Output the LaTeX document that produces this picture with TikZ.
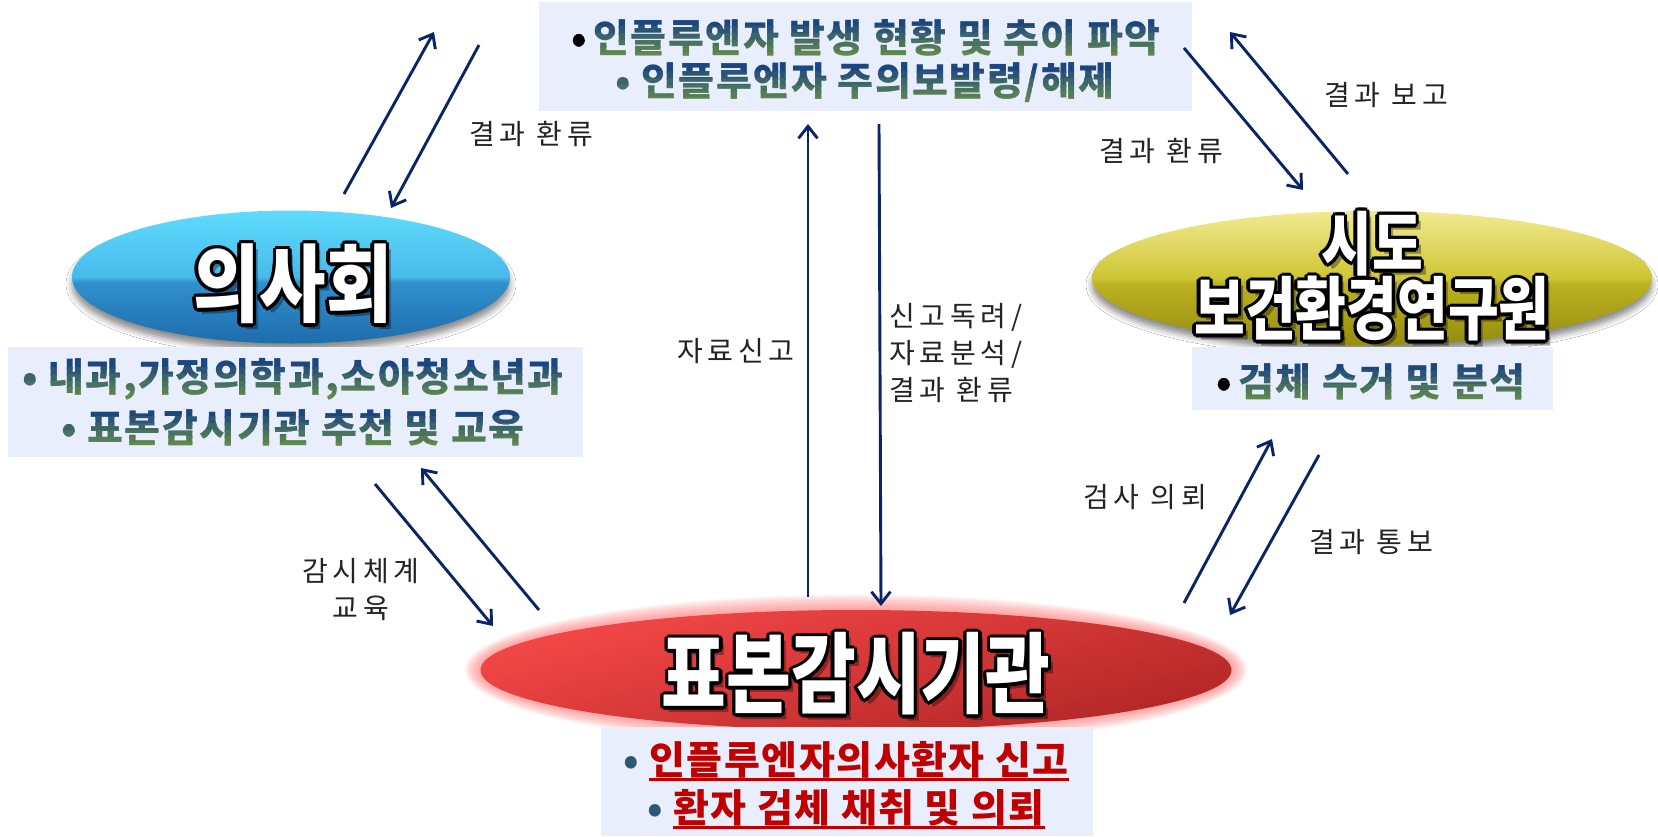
\documentclass[tikz,border=0pt]{standalone}
\usepackage{fontspec}
\newfontfamily\kr{Noto Sans CJK KR}
\newfontfamily\krl{Noto Sans CJK KR}[LetterSpace=17]
\newfontfamily\krb{Noto Sans CJK KR}[LetterSpace=4]
\usetikzlibrary{shapes.geometric,arrows.meta,calc,shadows.blur}

\definecolor{navy}{RGB}{10,36,104}
\definecolor{boxfill}{RGB}{232,238,252}
\definecolor{gtop}{RGB}{28,70,128}
\definecolor{gbot}{RGB}{115,155,65}
\definecolor{kred}{RGB}{192,0,0}
\definecolor{lbl}{RGB}{35,35,35}
\definecolor{bA}{RGB}{30,108,172}
\definecolor{bB}{RGB}{48,145,205}
\definecolor{bC}{RGB}{72,185,235}
\definecolor{bD}{RGB}{95,220,252}
\definecolor{yA}{RGB}{150,140,15}
\definecolor{yB}{RGB}{188,178,34}
\definecolor{yC}{RGB}{206,197,52}
\definecolor{yD}{RGB}{242,234,145}
\definecolor{rA}{RGB}{246,72,72}
\definecolor{rB}{RGB}{178,38,38}

\pgfdeclareverticalshading{bluegloss}{100bp}{color(0bp)=(bA); color(25bp)=(bA); color(48bp)=(bB); color(50bp)=(bC); color(75bp)=(bD); color(100bp)=(bD)}
\pgfdeclareverticalshading{yellowgloss}{100bp}{color(0bp)=(yA); color(25bp)=(yA); color(48bp)=(yB); color(50bp)=(yC); color(75bp)=(yD); color(100bp)=(yD)}

\tikzset{
  ttl/.style={inner sep=0pt},
  arr/.style={draw=navy, line width=2.9pt, -{Straight Barb[length=12pt,width=19pt]}},
  lab/.style={font=\krl\fontsize{28}{37}\selectfont, text=lbl, inner sep=0pt, align=center},
  kbox/.style={fill=boxfill, draw=none, inner sep=0pt},
  blt/.style={font=\krb\bfseries\fontsize{39}{39}\selectfont, inner sep=0pt}
}

% outlined title: #1 pos, #2 name, #3 font size, #4 x scale, #5 text
\newcommand{\OTitle}[5]{%
  \node[ttl, font=\kr\bfseries\fontsize{#3}{#3}\selectfont, text=black, opacity=0.35] (#2sh) at ($(#1)+(5,6)$) {\scalebox{#4}[1]{#5}};
  \foreach \ang in {0,30,...,330}{%
    \node[ttl, font=\kr\bfseries\fontsize{#3}{#3}\selectfont, text=black] (#2o\ang) at ($(#1)+(\ang:3.3)$) {\scalebox{#4}[1]{#5}};}
  \node[ttl, font=\kr\bfseries\fontsize{#3}{#3}\selectfont, text=white] (#2) at (#1) {\scalebox{#4}[1]{#5}};
}

% gradient text line: #1 pos, #2 name, #3 text
\newcommand{\GLine}[3]{%
  \foreach \k/\ya/\yb/\pc in {0/-60/-11/0,1/-11/-4/18,2/-4/3/36,3/3/9/52,4/9/15/66,5/15/60/78}{%
    \begin{scope}
      \clip ($(#1)+(-450,\ya-0.6)$) rectangle ($(#1)+(450,\yb)$);
      \node[blt, text=gbot!\pc!gtop] (#2\k) at (#1) {#3};
    \end{scope}}
  \coordinate (#2) at (#1);
}

\newcommand{\kul}[1]{\setbox0\hbox{#1}\leavevmode\rlap{\rule[-6pt]{\wd0}{2.8pt}}\box0}

\begin{document}
\begin{tikzpicture}[x=1pt,y=-1pt]
\useasboundingbox (0,0) rectangle (1658,836);
\fill[white] (0,0) rectangle (1658,836);

% ---------- red glow ----------
\foreach \i in {1,...,12}{
  \node[ellipse, fill=red!55!white, opacity=0.07, draw=none,
        minimum width={(751+2.6*\i)*1pt}, minimum height={(120+2.6*\i)*1pt}] (glow\i) at (856,670) {};}

% ---------- ellipses ----------
\node[ellipse, minimum width=438pt, minimum height=133pt, shade, shading=bluegloss,
      blur shadow={shadow xshift=0pt,shadow yshift=-7pt,shadow blur radius=6pt,shadow opacity=45}] (e1) at (291,277) {};
\node[ellipse, minimum width=560pt, minimum height=134pt, shade, shading=yellowgloss,
      blur shadow={shadow xshift=0pt,shadow yshift=-7pt,shadow blur radius=6pt,shadow opacity=45}] (e2) at (1372,278) {};
\node[ellipse, minimum width=751pt, minimum height=120pt, shade, top color=rA, bottom color=rB, shading angle=15] (e3) at (856,670) {};

% ---------- titles ----------
\OTitle{293,284}{t1}{85}{0.85}{의사회}
\OTitle{1372,244}{t2a}{69}{0.8}{시도}
\OTitle{1372,309}{t2b}{69}{0.8}{보건환경연구원}
\OTitle{856,674}{t3}{88}{0.8}{표본감시기관}

% ---------- boxes ----------
\node[kbox, minimum width=653pt, minimum height=109pt] (topbox) at (865.5,56.5) {};
\node[kbox, minimum width=575pt, minimum height=110pt] (leftbox) at (295.5,402) {};
\node[kbox, minimum width=361pt, minimum height=63pt] (rightbox) at (1372.5,378.5) {};
\node[kbox, minimum width=492pt, minimum height=109pt] (botbox) at (847,781.5) {};

% ---------- box texts ----------
\GLine{866,38}{tl1}{{\color{black}•}\,인플루엔자 발생 현황 및 추이 파악}
\GLine{865,83}{tl2}{• 인플루엔자 주의보발령/해제}
\GLine{293,379}{ll1}{• 내과,가정의학과,소아청소년과}
\GLine{293,428}{ll2}{• 표본감시기관 추천 및 교육}
\GLine{1371,382}{rl1}{{\color{black}•}\,검체 수거 및 분석}
\node[blt, text=kred] (bl1) at (846,761) {{\color{gtop!80!gbot}•} \kul{인플루엔자의사환자 신고}};
\node[blt, text=kred] (bl2) at (846,809) {{\color{gtop!80!gbot}•} \kul{환자 검체 채취 및 의뢰}};

% ---------- arrow end points ----------
\coordinate (a1s) at (344,194);  \coordinate (a1e) at (434,32);
\coordinate (a2s) at (479,45);   \coordinate (a2e) at (391,208);
\coordinate (a3s) at (808,597);  \coordinate (a3e) at (808,124);
\coordinate (a4s) at (879,124);  \coordinate (a4e) at (881,606);
\coordinate (a5s) at (1184,48);  \coordinate (a5e) at (1303,190);
\coordinate (a6s) at (1348,174); \coordinate (a6e) at (1230,32);
\coordinate (a7s) at (375,484);  \coordinate (a7e) at (493,626);
\coordinate (a8s) at (539,610);  \coordinate (a8e) at (421,468);
\coordinate (a9s) at (1184,603); \coordinate (a9e) at (1272,439);
\coordinate (a10s) at (1319,455); \coordinate (a10e) at (1230,615);

\foreach \n in {1,...,10}{\draw[arr] (a\n s) -- (a\n e);}

% ---------- labels ----------
\node[lab] (l1) at (531,134) {결과 환류};
\node[lab] (l2) at (736,351) {자료신고};
\node[lab, align=left, anchor=west] (l3) at (889,353) {신고독려/\\자료분석/\\결과 환류};
\node[lab] (l4) at (1386,95) {결과 보고};
\node[lab] (l5) at (1161,151) {결과 환류};
\node[lab] (l6) at (361,590) {감시체계\\교육};
\node[lab] (l7) at (1145,497) {검사 의뢰};
\node[lab] (l8) at (1371,542) {결과 통보};
\end{tikzpicture}
\end{document}
